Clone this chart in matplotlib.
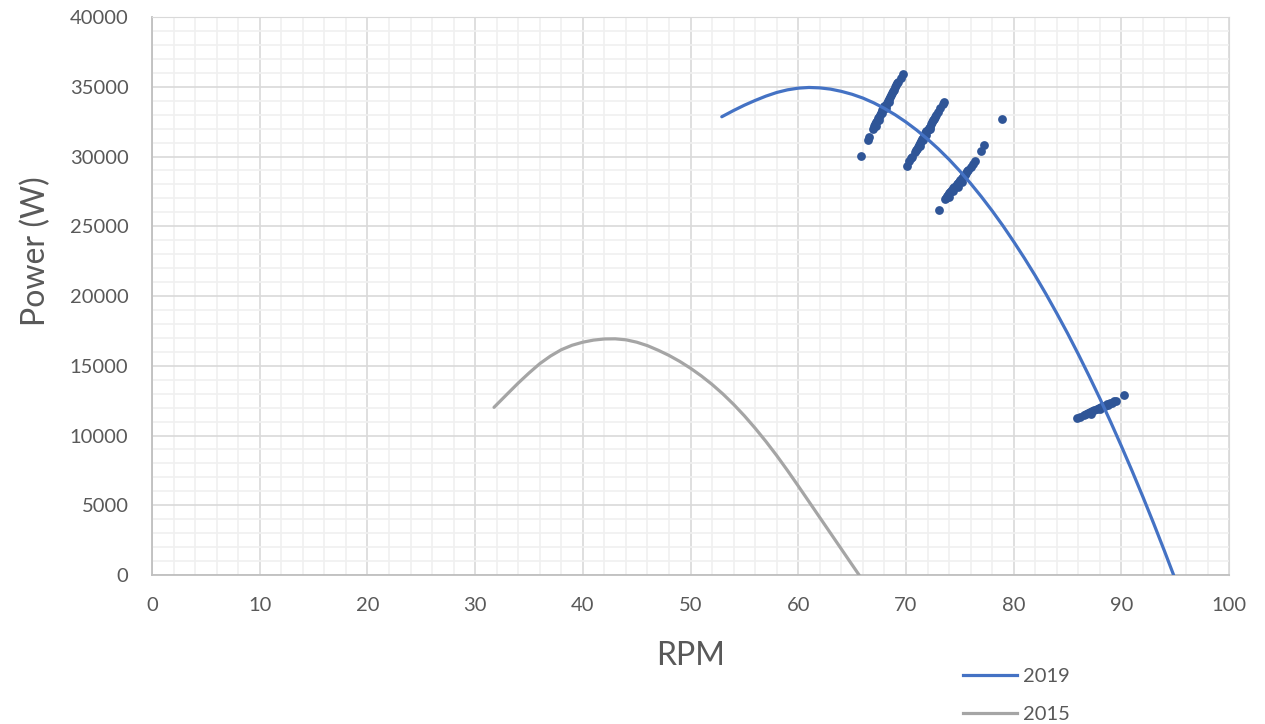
import matplotlib
matplotlib.use("Agg")
import matplotlib.pyplot as plt
from matplotlib.lines import Line2D
from matplotlib.ticker import MultipleLocator

plt.rcParams['font.family'] = ['Lato', 'DejaVu Sans']

# fitted curve 2019
rpm_2019 = [52.9, 54, 55, 56, 57, 58, 59, 60, 61, 62, 63, 64, 65, 66, 67, 68, 69, 70,
            71, 72, 73, 74, 75, 76, 77, 78, 79, 80, 81, 82, 83, 84, 85, 86, 87, 88,
            89, 90, 91, 92, 93, 94, 94.85]
power_2019 = [32850, 33300, 33680, 34020, 34330, 34590, 34780, 34900, 34950, 34920,
              34830, 34670, 34460, 34190, 33850, 33450, 32990, 32470, 31890, 31250,
              30550, 29790, 28960, 28070, 27120, 26110, 25040, 23900, 22710, 21460,
              20140, 18760, 17330, 15830, 14270, 12660, 10980, 9240, 7450, 5600,
              3690, 1720, 0]

# fitted curve 2015
rpm_2015 = [31.75, 33, 34, 35, 36, 37, 38, 39, 40, 41, 42, 43, 44, 45, 46, 47, 48, 49,
            50, 51, 52, 53, 54, 55, 56, 57, 58, 59, 60, 61, 62, 63, 64, 65, 65.65]
power_2015 = [12020, 12990, 13760, 14480, 15150, 15700, 16150, 16470, 16690, 16840,
              16920, 16930, 16860, 16690, 16440, 16110, 15740, 15310, 14820, 14270,
              13660, 12980, 12230, 11410, 10520, 9570, 8560, 7490, 6380, 5250,
              4120, 2990, 1860, 730, 0]

# measured points 2019
rpm_pts = [
    65.8, 66.5, 66.6,
    66.9, 67.0, 67.1, 67.2, 67.3, 67.4, 67.5, 67.6, 67.7, 67.8, 67.9, 68.0, 68.1, 68.2,
    68.3, 68.4, 68.5, 68.6, 68.7, 68.8, 68.9, 69.0, 69.1, 69.2, 69.3, 69.5, 69.7,
    67.2, 67.5, 67.8, 68.1, 68.4,
    70.1, 70.3, 70.5, 70.6, 70.8, 70.9, 71.0, 71.1, 71.2, 71.3, 71.4, 71.5, 71.6, 71.7,
    71.8, 71.9, 72.0, 72.1, 72.2, 72.3, 72.4, 72.5, 72.6, 72.7, 72.8, 73.0, 73.2, 73.4, 73.5,
    71.3, 71.6, 71.9, 72.2,
    73.1, 73.6, 73.7, 73.8, 73.9, 74.0, 74.1, 74.2, 74.3, 74.4, 74.5, 74.6, 74.7, 74.8,
    74.9, 75.0, 75.1, 75.2, 75.3, 75.4, 75.5, 75.6, 75.7, 75.8, 76.0, 76.2, 76.4,
    74.0, 74.4, 74.8, 75.2, 77.0, 77.2, 78.9,
    85.9, 86.2, 86.5, 86.7, 86.9, 87.1, 87.3, 87.5, 87.7, 87.9, 88.1, 88.3, 88.5, 88.7,
    88.9, 89.1, 89.3, 89.5, 87.2, 88.0, 88.8, 90.2,
]
power_pts = [
    30050, 31200, 31400,
    32000, 32200, 32300, 32500, 32550, 32750, 32850, 33000, 33150, 33300, 33400, 33600, 33700, 33850,
    34000, 34100, 34300, 34400, 34550, 34700, 34800, 35000, 35100, 35250, 35350, 35600, 35950,
    32200, 32600, 33100, 33500, 33900,
    29350, 29650, 29900, 30000, 30300, 30450, 30550, 30700, 30850, 30950, 31100, 31250, 31350, 31500,
    31650, 31800, 31900, 32050, 32150, 32300, 32450, 32600, 32700, 32850, 32950, 33200, 33500, 33750, 33900,
    30750, 31150, 31550, 31950,
    26150, 26950, 27000, 27150, 27250, 27350, 27450, 27500, 27600, 27750, 27800, 27900, 28000, 28100,
    28150, 28300, 28350, 28450, 28550, 28650, 28700, 28800, 28950, 29000, 29250, 29450, 29650,
    27100, 27500, 27850, 28200, 30400, 30800, 32700,
    11250, 11350, 11450, 11550, 11600, 11700, 11750, 11850, 11900, 11950, 12050, 12100, 12150, 12250,
    12300, 12350, 12450, 12500, 11550, 11900, 12200, 12900,
]

series_labels = ['2019', '2015']
blue = '#4472C4'
dark_blue = '#2F5597'
grey = '#A5A5A5'
text_col = '#595959'

fig = plt.figure(figsize=(12.65, 7.24), dpi=100)
ax = fig.add_axes([0.1202, 0.2058, 0.8514, 0.7707])

ax.scatter(rpm_pts, power_pts, s=40, color=dark_blue, linewidths=0, zorder=3)
ax.plot(rpm_2019, power_2019, color=blue, lw=2.3, zorder=4, solid_capstyle='round',
        solid_joinstyle='round')
ax.plot(rpm_2015, power_2015, color=grey, lw=2.3, zorder=4, solid_capstyle='round',
        solid_joinstyle='round')

ax.set_xlim(0, 100)
ax.set_ylim(0, 40000)
ax.xaxis.set_major_locator(MultipleLocator(10))
ax.xaxis.set_minor_locator(MultipleLocator(2))
ax.yaxis.set_major_locator(MultipleLocator(5000))
ax.yaxis.set_minor_locator(MultipleLocator(1000))
ax.grid(which='major', color='#D9D9D9', lw=1.2)
ax.grid(which='minor', color='#F0F0F0', lw=1.2)
ax.set_axisbelow(True)
for side in ['top', 'right']:
    ax.spines[side].set_color('#D9D9D9')
for side in ['left', 'bottom']:
    ax.spines[side].set_color('#BFBFBF')
    ax.spines[side].set_linewidth(1.3)

ax.tick_params(which='both', length=0, labelsize=14.5, labelcolor=text_col)
ax.tick_params(axis='y', pad=17)
ax.tick_params(axis='x', pad=16)

ax.set_xlabel('RPM', fontsize=23, color=text_col)
ax.set_ylabel('Power (W)', fontsize=23, color=text_col)
ax.xaxis.set_label_coords(0.5, -0.118)
ax.yaxis.set_label_coords(-0.094, 0.58)

handles = [Line2D([], [], color=blue, lw=2.3), Line2D([], [], color=grey, lw=2.3)]
fig.legend(handles, series_labels, loc='upper left', bbox_to_anchor=(0.761, 0.078),
           frameon=False, fontsize=14.5, labelcolor=text_col, handlelength=2.7,
           handletextpad=0.3, labelspacing=1.05, borderpad=0, borderaxespad=0)

fig.savefig('out.png', dpi=100)
